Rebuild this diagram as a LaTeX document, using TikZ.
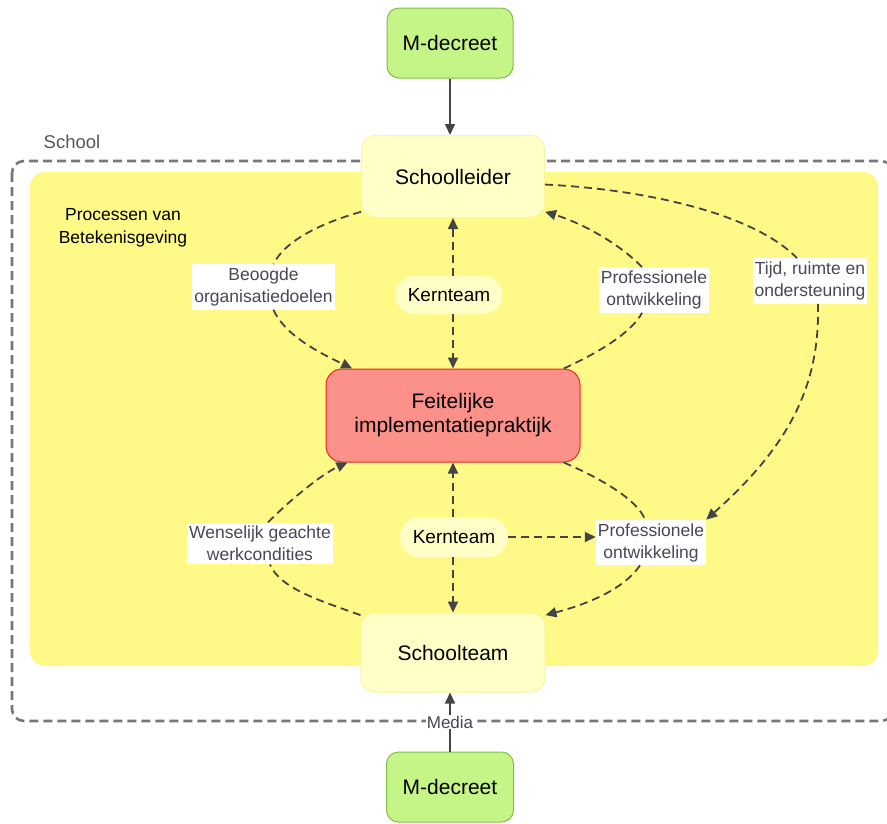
\documentclass[tikz,border=0pt]{standalone}
\usepackage{fontspec}
\setmainfont{Liberation Sans}
\usetikzlibrary{arrows.meta,calc}
\definecolor{mdgreen}{RGB}{197,245,135}
\definecolor{mdgreenline}{RGB}{130,190,75}
\definecolor{area}{RGB}{255,250,135}
\definecolor{ly}{RGB}{255,255,200}
\definecolor{lyline}{RGB}{250,245,160}
\definecolor{salmon}{RGB}{252,145,138}
\definecolor{salmonline}{RGB}{228,40,40}
\definecolor{lineg}{RGB}{68,68,68}
\definecolor{bordg}{RGB}{120,120,120}
\definecolor{lbltext}{RGB}{72,72,88}
\tikzset{
  greenbox/.style={draw=mdgreenline, fill=mdgreen, rounded corners=12pt, line width=1pt,
    minimum width=126pt, minimum height=70pt, font=\fontsize{21}{24}\selectfont},
  lightbox/.style={draw=lyline, fill=ly, rounded corners=14pt, line width=1pt,
    minimum width=183pt, minimum height=82pt, font=\fontsize{21}{24}\selectfont},
  redbox/.style={draw=salmonline, fill=salmon, rounded corners=16pt, line width=1pt,
    minimum width=254pt, minimum height=93pt, align=center, font=\fontsize{21}{24}\selectfont},
  pill/.style={fill=ly, draw=none, rounded corners=19pt, minimum width=107pt,
    minimum height=38pt, font=\fontsize{19}{22}\selectfont},
  lbl/.style={fill=white, text=lbltext, align=center, inner xsep=2pt, inner ysep=3.5pt,
    font=\fontsize{17.5}{22}\selectfont},
  dl/.style={draw=lineg, dash pattern=on 8pt off 5pt, line width=1.8pt},
  sl/.style={draw=lineg, line width=1.6pt},
  arr/.style={-{Triangle[length=11pt,width=10pt]}},
}
\begin{document}
\begin{tikzpicture}[x=1pt,y=-1pt]
\useasboundingbox (0,0) rectangle (887,823);
% school boundary and area
\draw[bordg, line width=2.6pt, dash pattern=on 9pt off 5pt, rounded corners=12pt]
  (12,161) rectangle (893,721);
\fill[area, rounded corners=15pt] (30,172) rectangle (878,666);
\node[text=lineg!90, font=\fontsize{18.5}{22}\selectfont] (school) at (72,142) {School};
\node[align=center, font=\fontsize{17.5}{23}\selectfont] (proc) at (123,228) {Processen van\\Betekenisgeving};
% main nodes
\node[greenbox] (md1) at (450,43) {M-decreet};
\node[lightbox] (sl) at (453,176.5) {Schoolleider};
\node[redbox] (fi) at (453,415.5) {Feitelijke\\implementatiepraktijk};
\node[pill] (kt1) at (449,295) {Kernteam};
\node[pill, minimum width=108pt, minimum height=40pt, rounded corners=20pt] (kt2) at (454,537) {Kernteam};
\node[lightbox, minimum width=184pt, minimum height=79pt] (st) at (453,652.5) {Schoolteam};
\node[greenbox, minimum width=127pt] (md2) at (450,787) {M-decreet};
% labels
\node[lbl] (beo) at (263.5,287) {Beoogde\\organisatiedoelen};
\node[lbl] (po1) at (654,290) {Professionele\\ontwikkeling};
\node[lbl] (tijd) at (810,281) {Tijd, ruimte en\\ondersteuning};
\node[lbl] (wen) at (260,543.5) {Wenselijk geachte\\werkcondities};
\node[lbl] (po2) at (651,542.5) {Professionele\\ontwikkeling};
% solid connectors
\draw[sl, arr] (md1.south) -- (md1.south |- sl.north);
\draw[sl, arr] (md2.north) -- (md2.north |- st.south)
  node[pos=0.5, fill=white, text=lbltext, inner sep=1pt, font=\fontsize{17}{20}\selectfont] (media) {Media};
% dashed connectors
\draw[dl] (sl.201) .. controls (318,224) and (284,242) .. ([xshift=10pt]beo.north);
\draw[dl, arr] ([xshift=10pt]beo.south) .. controls (285,336) and (322,354) .. (fi.155);
\draw[dl, arr] (sl.south |- kt1.north) -- (sl.south);
\draw[dl, arr] (sl.south |- kt1.south) -- (fi.north);
\draw[dl] (fi.23) .. controls (600,352) and (632,332) .. ([xshift=-12pt]po1.south);
\draw[dl, arr] ([xshift=-12pt]po1.north) .. controls (622,246) and (585,224) .. (sl.339);
\draw[dl] (sl.355) .. controls (640,189) and (752,212) .. ([xshift=-13pt]tijd.north);
\draw[dl, arr] ([xshift=8pt]tijd.south) .. controls (820,385) and (790,445) .. (po2.north east);
\draw[dl] (st.158) .. controls (318,600) and (280,588) .. ([xshift=10pt]wen.south);
\draw[dl, arr] ([xshift=8pt]wen.north) .. controls (290,500) and (322,474) .. (fi.204);
\draw[dl, arr] (fi.south |- kt2.north) -- (fi.south);
\draw[dl, arr] (fi.south |- kt2.south) -- (st.north);
\draw[dl, arr] (kt2.east) -- (kt2.east -| po2.west);
\draw[dl] (fi.337.5) .. controls (600,478) and (638,500) .. ([xshift=-6pt]po2.north);
\draw[dl, arr] ([xshift=-11pt]po2.south) .. controls (622,592) and (580,606) .. (st.22);
\end{tikzpicture}
\end{document}
